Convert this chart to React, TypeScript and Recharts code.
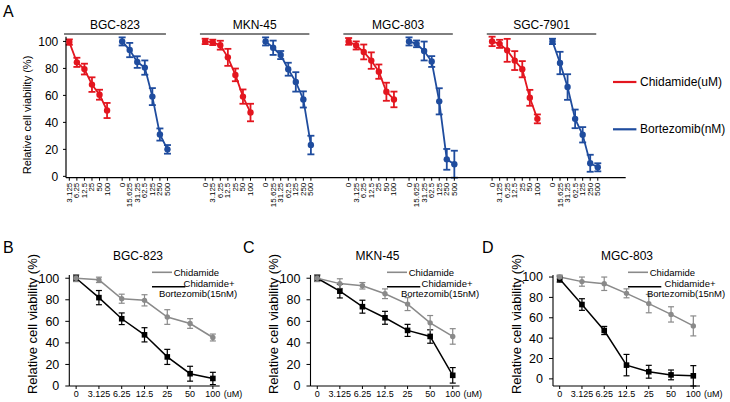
import React from 'react';
import { LineChart, Line, XAxis, YAxis, ErrorBar, ReferenceLine, Legend } from 'recharts';

const FONT = '"Liberation Sans", Arial, Helvetica, sans-serif';
const RED = '#e3161f';
const BLUE = '#1f4c9e';
const GRAY = '#8a8a8a';
const BLACK = '#000000';

// ---------- Panel A data ----------
const cellLinesA = ['BGC-823', 'MKN-45', 'MGC-803', 'SGC-7901'];
const chidamideConcA = ['0', '3.125', '6.25', '12.5', '25', '50', '100'];
const bortezomibConcA = ['0', '15.625', '31.25', '62.5', '125', '250', '500'];

const bgcChidamideLabels = ['3.125', '6.25', '12.5', '25', '50', '100'];
const bgcChidamide = [99.5, 84.5, 79.5, 68, 60.5, 48.8];
const bgcChidamideErr = [2, 3.4, 4, 5.4, 3.7, 5.6];
const bgcBortezomib = [100, 93.6, 84.7, 80.6, 59.1, 31, 20];
const bgcBortezomibErr = [3, 5.3, 4.3, 5.3, 6.3, 4.5, 3.2];

const mknChidamide = [100, 99.3, 97.2, 88.2, 75.2, 59.1, 47.3];
const mknChidamideErr = [2, 2, 3.3, 6.3, 4.7, 5.3, 6.5];
const mknBortezomib = [100, 95.3, 89.9, 79.4, 70, 57, 23.2];
const mknBortezomibErr = [3, 5.3, 3, 4.8, 7.2, 6, 6.9];

const mgcChidamide = [100, 97, 92.2, 85.8, 77.6, 62.7, 57];
const mgcChidamideErr = [2.5, 3, 5.5, 6.1, 5.3, 6.7, 5.8];
const mgcBortezomib = [100, 98.2, 92.9, 85.1, 55.6, 12.6, 9];
const mgcBortezomibErr = [3, 2.5, 7, 4, 9.7, 7.7, 10];

const sgcChidamide = [100, 98.2, 93.4, 85.8, 79.4, 58.2, 42.6];
const sgcChidamideErr = [3.5, 3, 8.5, 7, 6, 5.9, 3.3];
const sgcBortezomib = [100, 84, 66.2, 42.6, 30.8, 9.7, 6.7];
const sgcBortezomibErr = [2, 8.3, 9.5, 6.9, 5.7, 6.3, 3];

const yTicks = [0, 20, 40, 60, 80, 100];

// ---------- Panel B/C/D data ----------
const concB = ['0', '3.125', '6.25', '12.5', '25', '50', '100'];

const bgcChi = [100, 98.5, 81, 79.5, 64, 58, 45];
const bgcChiErr = [3, 2.5, 4.2, 5.2, 6.8, 4.5, 3.2];
const bgcCombo = [100, 82, 62.4, 47.5, 27, 11.4, 7];
const bgcComboErr = [3, 6.6, 5.4, 6.6, 7, 6.9, 5.7];

const mknChi = [100, 95, 93, 85.6, 76, 58.6, 46];
const mknChiErr = [3, 4.5, 3, 4.5, 6, 6.8, 7.2];
const mknCombo = [100, 88, 73.6, 63.3, 51.6, 46, 9.9];
const mknComboErr = [3, 6.3, 6, 6, 5.6, 6.3, 7.2];

const mgcChi = [100, 95.5, 93.4, 84, 73.9, 63.3, 52];
const mgcChiErr = [2, 4.5, 6.6, 4.4, 9, 7.5, 9.8];
const mgcCombo = [98, 73, 47.5, 13.5, 7, 3.9, 3];
const mgcComboErr = [3, 5.7, 4, 10.5, 6.3, 4.8, 10];

// ---------- layout (slots on the top x axis) ----------
const SLOTS_PER_GROUP = 19;
const FIRST_GROUP = -1;
const BOR_OFFSET = 8;

const groupsA = [
  { name: cellLinesA[0], chiLabels: bgcChidamideLabels, chi: bgcChidamide, chiErr: bgcChidamideErr, bor: bgcBortezomib, borErr: bgcBortezomibErr },
  { name: cellLinesA[1], chiLabels: chidamideConcA, chi: mknChidamide, chiErr: mknChidamideErr, bor: mknBortezomib, borErr: mknBortezomibErr },
  { name: cellLinesA[2], chiLabels: chidamideConcA, chi: mgcChidamide, chiErr: mgcChidamideErr, bor: mgcBortezomib, borErr: mgcBortezomibErr },
  { name: cellLinesA[3], chiLabels: chidamideConcA, chi: sgcChidamide, chiErr: sgcChidamideErr, bor: sgcBortezomib, borErr: sgcBortezomibErr },
];

const tickLabelMap = new Map<number, string>();
const seriesA: { key: string; color: string; rows: { x: number; v: number; e: number }[] }[] = [];
const headersA: { name: string; x1: number; x2: number }[] = [];

groupsA.forEach((g, gi) => {
  const s0 = FIRST_GROUP + gi * SLOTS_PER_GROUP;
  const chiRows = g.chi.map((v, i) => {
    const x = s0 + chidamideConcA.indexOf(g.chiLabels[i]);
    tickLabelMap.set(x, g.chiLabels[i]);
    return { x, v, e: g.chiErr[i] };
  });
  const borRows = g.bor.map((v, i) => {
    const x = s0 + BOR_OFFSET + i;
    tickLabelMap.set(x, bortezomibConcA[i]);
    return { x, v, e: g.borErr[i] };
  });
  seriesA.push({ key: `chi-${gi}`, color: RED, rows: chiRows });
  seriesA.push({ key: `bor-${gi}`, color: BLUE, rows: borRows });
  headersA.push({ name: g.name, x1: Math.max(s0 - 0.7, -0.7), x2: s0 + 13.8 });
});
const topTicks = Array.from(tickLabelMap.keys()).sort((a, b) => a - b);

const TopTick = (props: any) => {
  const { x, y, payload } = props;
  const label = tickLabelMap.get(payload.value) ?? '';
  return (
    <text
      x={x}
      y={y}
      transform={`rotate(-90 ${x} ${y})`}
      textAnchor="end"
      dominantBaseline="central"
      fontSize={8}
      fontFamily={FONT}
      fill="#000"
    >
      {label}
    </text>
  );
};

const TopLegend = () => (
  <svg width={117} height={60} style={{ overflow: 'visible', display: 'block' }}>
    <line x1={0} x2={23.4} y1={6} y2={6} stroke={RED} strokeWidth={2.2} />
    <text x={27} y={6} dominantBaseline="central" fontSize={12} fontFamily={FONT} fill="#000">Chidamide(uM)</text>
    <line x1={0} x2={23.4} y1={53.3} y2={53.3} stroke={BLUE} strokeWidth={2.2} />
    <text x={27} y={53.3} dominantBaseline="central" fontSize={12} fontFamily={FONT} fill="#000">Bortezomib(nM)</text>
  </svg>
);

// ---------- bottom panels ----------
const panelsB = [
  { letter: 'B', title: 'BGC-823', chi: bgcChi, chiErr: bgcChiErr, combo: bgcCombo, comboErr: bgcComboErr },
  { letter: 'C', title: 'MKN-45', chi: mknChi, chiErr: mknChiErr, combo: mknCombo, comboErr: mknComboErr },
  { letter: 'D', title: 'MGC-803', chi: mgcChi, chiErr: mgcChiErr, combo: mgcCombo, comboErr: mgcComboErr },
];
const panelLayout = [
  { left: 0, plotLeft: 69.3, plotRight: 219.7, legendX: 151.7, plusC: 57, borC: 46, titleX: 138, letterX: 3 },
  { left: 240, plotLeft: 310.5, plotRight: 459.5, legendX: 386.7, plusC: 60, borC: 53, titleX: 377.5, letterX: 243 },
  { left: 480, plotLeft: 553, plotRight: 700, legendX: 628.3, plusC: 62, borC: 58, titleX: 627, letterX: 482 },
];
const B_W = 250;
const B_TOP = 225;
const B_H = 177;

const SquareDot = (props: any) => {
  const { cx, cy } = props;
  if (cx == null || cy == null) return null;
  return <rect x={cx - 2.8} y={cy - 2.8} width={5.6} height={5.6} fill={BLACK} />;
};
const GrayDot = (props: any) => {
  const { cx, cy } = props;
  if (cx == null || cy == null) return null;
  return <circle cx={cx} cy={cy} r={2.7} fill={GRAY} />;
};

const makeBottomLegend = (plusC: number, borC: number) => () => (
  <svg width={100} height={32} style={{ overflow: 'visible', display: 'block' }}>
    <line x1={0} x2={20} y1={6.3} y2={6.3} stroke={GRAY} strokeWidth={1.6} />
    <text x={21.7} y={6.3} dominantBaseline="central" fontSize={9.5} fontFamily={FONT} fill="#000">Chidamide</text>
    <line x1={0} x2={33.3} y1={20.7} y2={20.7} stroke={BLACK} strokeWidth={1.6} />
    <text x={plusC} y={17.3} dominantBaseline="central" textAnchor="middle" fontSize={9.5} fontFamily={FONT} fill="#000">Chidamide+</text>
    <text x={borC} y={27.3} dominantBaseline="central" textAnchor="middle" fontSize={9.5} fontFamily={FONT} fill="#000">Bortezomib(15nM)</text>
  </svg>
);

export default function App() {
  return (
    <div style={{ position: 'absolute', left: 0, top: 0, width: 730, height: 402, background: '#fff', overflow: 'hidden', fontFamily: FONT }}>
      {/* Panel A */}
      <div style={{ position: 'absolute', left: 0, top: 0 }}>
        <LineChart width={730} height={215} margin={{ top: 36.7, right: 104.3, bottom: 7, left: 0 }}>
          <XAxis
            type="number"
            dataKey="x"
            domain={[-0.44, 73.7]}
            ticks={topTicks}
            interval={0}
            tick={<TopTick />}
            tickSize={3}
            tickMargin={2}
            height={30.3}
            axisLine={{ stroke: '#000', strokeWidth: 1.2 }}
            tickLine={{ stroke: '#000' }}
            allowDataOverflow
          />
          <YAxis
            type="number"
            domain={[0, 100]}
            ticks={yTicks}
            width={66}
            tickSize={3}
            tickMargin={4.7}
            tick={{ fontSize: 12, fill: '#000', fontFamily: FONT }}
            axisLine={{ stroke: '#000', strokeWidth: 1.2 }}
            tickLine={{ stroke: '#000' }}
          />
          {headersA.map((h) => (
            <ReferenceLine
              key={h.name}
              segment={[{ x: h.x1, y: 105.5 }, { x: h.x2, y: 105.5 }]}
              ifOverflow="visible"
              stroke="#000"
              strokeWidth={1}
              label={{ value: h.name, position: 'top', offset: 4.7, fontSize: 12, fill: '#000', fontFamily: FONT }}
            />
          ))}
          {seriesA.map((s) => (
            <Line
              key={s.key}
              data={s.rows}
              dataKey="v"
              stroke={s.color}
              strokeWidth={1.8}
              dot={{ r: 3.2, fill: s.color, stroke: s.color, strokeWidth: 0 }}
              isAnimationActive={false}
              legendType="none"
            >
              <ErrorBar dataKey="e" width={3.5} stroke={s.color} strokeWidth={1.8} direction="y" />
            </Line>
          ))}
          <Legend
            layout="horizontal"
            verticalAlign="middle"
            align="center"
            content={<TopLegend />}
            wrapperStyle={{ position: 'absolute', left: 613, top: 76, width: 117, height: 60 }}
          />
        </LineChart>
      </div>

      {/* Panels B, C, D */}
      {panelsB.map((p, i) => {
        const L = panelLayout[i];
        const chiRows = p.chi.map((v, k) => ({ x: k, v, e: p.chiErr[k] }));
        const comboRows = p.combo.map((v, k) => ({ x: k, v, e: p.comboErr[k] }));
        const LegendContent = makeBottomLegend(L.plusC, L.borC);
        return (
          <div key={p.letter} style={{ position: 'absolute', left: L.left, top: B_TOP }}>
            <LineChart width={B_W} height={B_H} margin={{ top: 50, right: B_W - (L.plotRight - L.left), bottom: 0, left: 0 }}>
              <XAxis
                type="number"
                dataKey="x"
                domain={[-0.3, 6.3]}
                ticks={[0, 1, 2, 3, 4, 5, 6]}
                interval={0}
                tickFormatter={(v: number) => concB[v]}
                tick={{ fontSize: 9, fill: '#000', fontFamily: FONT }}
                tickSize={3}
                tickMargin={1.5}
                height={16}
                axisLine={{ stroke: '#000', strokeWidth: 1.1 }}
                tickLine={{ stroke: '#000' }}
                label={{ value: '(uM)', position: 'right', offset: 4, fontSize: 9, fill: '#000', fontFamily: FONT }}
              />
              <YAxis
                type="number"
                domain={[0, 100]}
                ticks={yTicks}
                width={L.plotLeft - L.left}
                tickSize={4}
                tickMargin={6}
                tick={{ fontSize: 12.5, fill: '#000', fontFamily: FONT }}
                axisLine={{ stroke: '#000', strokeWidth: 1.1 }}
                tickLine={{ stroke: '#000' }}
              />
              <Line
                data={comboRows}
                dataKey="v"
                stroke={BLACK}
                strokeWidth={1.5}
                dot={<SquareDot />}
                isAnimationActive={false}
                legendType="none"
              >
                <ErrorBar dataKey="e" width={3} stroke={BLACK} strokeWidth={1.2} direction="y" />
              </Line>
              <Line
                data={chiRows}
                dataKey="v"
                stroke={GRAY}
                strokeWidth={1.5}
                dot={<GrayDot />}
                isAnimationActive={false}
                legendType="none"
              >
                <ErrorBar dataKey="e" width={3} stroke={GRAY} strokeWidth={1.2} direction="y" />
              </Line>
              <Legend
                layout="horizontal"
                verticalAlign="middle"
                align="center"
                content={<LegendContent />}
                wrapperStyle={{ position: 'absolute', left: L.legendX - L.left, top: 272.3 - 6.3 - B_TOP, width: 100, height: 32 }}
              />
            </LineChart>
          </div>
        );
      })}

      {/* Text overlay: panel letters, titles, axis titles */}
      <svg width={730} height={402} style={{ position: 'absolute', left: 0, top: 0, pointerEvents: 'none' }}>
        <text x={3} y={17} fontSize={16} fontFamily={FONT} fill="#000">A</text>
        <text
          x={27}
          y={115}
          transform="rotate(-90 27 115)"
          textAnchor="middle"
          dominantBaseline="central"
          fontSize={11}
          fontFamily={FONT}
          fill="#000"
        >
          Relative cell viability (%)
        </text>
        {panelsB.map((p, i) => {
          const L = panelLayout[i];
          const lx = L.plotLeft - 37;
          return (
            <g key={p.letter}>
              <text x={L.letterX} y={253} fontSize={16} fontFamily={FONT} fill="#000">{p.letter}</text>
              <text x={L.titleX} y={256} textAnchor="middle" dominantBaseline="central" fontSize={12} fontFamily={FONT} fill="#000">{p.title}</text>
              <text
                x={lx}
                y={324}
                transform={`rotate(-90 ${lx} 324)`}
                textAnchor="middle"
                dominantBaseline="central"
                fontSize={13}
                fontFamily={FONT}
                fill="#000"
              >
                Relative cell viability (%)
              </text>
            </g>
          );
        })}
      </svg>
    </div>
  );
}
